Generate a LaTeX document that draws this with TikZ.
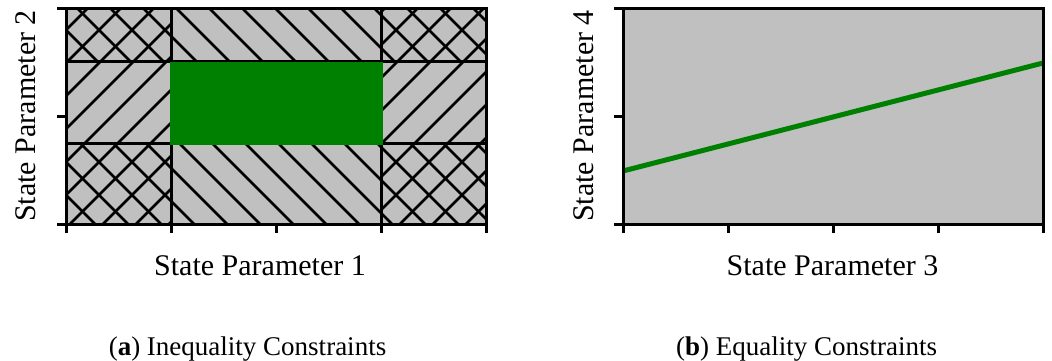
\documentclass[tikz,border=0pt]{standalone}
\usepackage{fontspec}
\setmainfont{Liberation Serif}
\usetikzlibrary{positioning}
\definecolor{regiongray}{HTML}{C0C0C0}
\definecolor{feasgreen}{HTML}{008000}
\tikzset{
  hatch/.style={black, line width=1pt},
  frame/.style={black, line width=1.2pt},
  tick/.style={black, line width=1.2pt},
  axislabel/.style={font=\fontsize{12}{14}\selectfont, inner sep=0pt},
  subcaption/.style={font=\fontsize{10.8}{13}\selectfont, inner sep=0pt, anchor=base}
}

\begin{document}
\begin{tikzpicture}[x=0.4pt, y=0.4pt]
	\useasboundingbox (0,0) rectangle (1052,360);
	% (a) inequality constraints
	\fill[regiongray] (66,135) rectangle (486,351);
	\begin{scope}
		\clip (66,298) rectangle (171,351) (381,298) rectangle (486,351)
		      (66,135) rectangle (171,216) (381,135) rectangle (486,216);
		\foreach \k in {-25,...,25} {
			\draw[hatch] (\k*33,0) -- ++(420,420);
			\draw[hatch] (\k*33,0) -- ++(-420,420);
		}
	\end{scope}
	\begin{scope}
		\clip (66,216) rectangle (171,298) (381,216) rectangle (486,298);
		\foreach \k in {-25,...,25}
			\draw[hatch] (\k*33,0) -- ++(420,420);
	\end{scope}
	\begin{scope}
		\clip (171,298) rectangle (381,351) (171,135) rectangle (381,216);
		\foreach \k in {-25,...,25}
			\draw[hatch] (\k*33,0) -- ++(-420,420);
	\end{scope}
	\draw[frame] (171,135) -- (171,351) (381,135) -- (381,351);
	\draw[frame] (66,216) -- (486,216) (66,298) -- (486,298);
	\fill[feasgreen] (170,215) rectangle (382.5,298);
	\draw[frame] (66,135) rectangle (486,351);
	\foreach \x in {66,171,276,381,486}
		\draw[tick] (\x,135) -- (\x,127);
	\foreach \y in {135,243,351}
		\draw[tick] (66,\y) -- (57,\y);
	\node[axislabel, anchor=base] (xlabelA) at (260,85) {State Parameter 1};
	\node[axislabel, anchor=base, rotate=90] (ylabelA) at (35,244) {State Parameter 2};
	\node[subcaption] (captionA) at (247.5,4.5) {(\textbf{a}) Inequality Constraints};

	% (b) equality constraints
	\fill[regiongray] (623,135) rectangle (1043,351);
	\draw[feasgreen, line width=2pt] (623,189) -- (1043,297);
	\draw[frame] (623,135) rectangle (1043,351);
	\foreach \x in {623,728,833,938,1043}
		\draw[tick] (\x,135) -- (\x,127);
	\foreach \y in {135,243,351}
		\draw[tick] (623,\y) -- (614,\y);
	\node[axislabel, anchor=base] (xlabelB) at (832.5,85) {State Parameter 3};
	\node[axislabel, anchor=base, rotate=90] (ylabelB) at (593,244) {State Parameter 4};
	\node[subcaption] (captionB) at (806.5,4.5) {(\textbf{b}) Equality Constraints};
\end{tikzpicture}
\end{document}
